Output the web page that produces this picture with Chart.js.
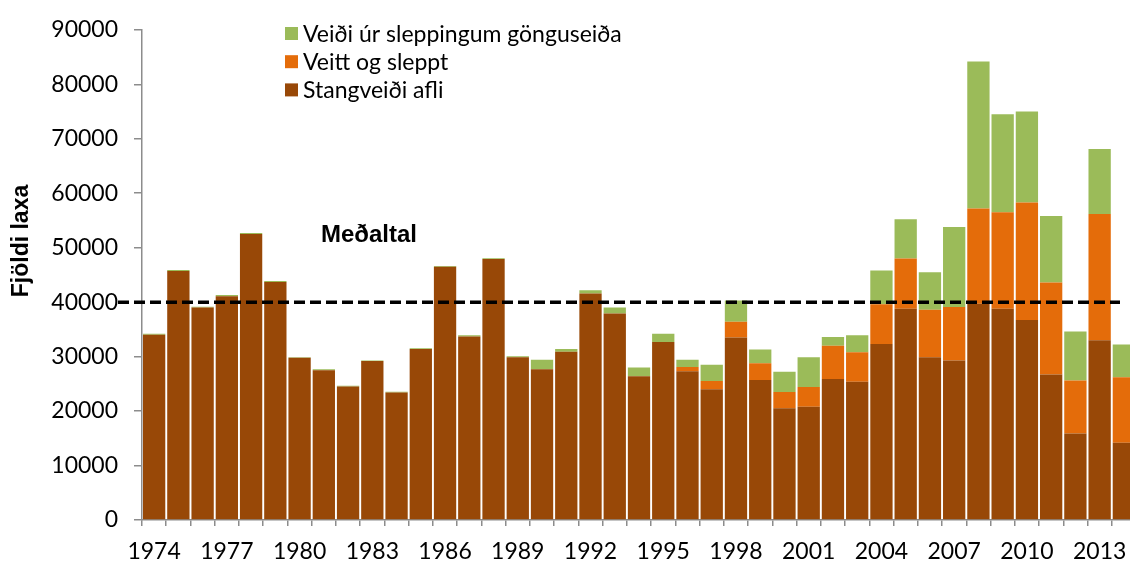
<!DOCTYPE html>
<html>
<head>
<meta charset="utf-8">
<script src="https://cdn.jsdelivr.net/npm/chart.js@4/dist/chart.umd.min.js"></script>
<style>
  html, body { margin: 0; padding: 0; background: #fff; overflow: hidden; }
  #wrap { width: 1136px; height: 561px; }
</style>
</head>
<body>
<div id="wrap"><canvas id="c" width="1136" height="561"></canvas></div>
<script>
const years = [1974,1975,1976,1977,1978,1979,1980,1981,1982,1983,1984,1985,1986,1987,1988,1989,1990,1991,1992,1993,1994,1995,1996,1997,1998,1999,2000,2001,2002,2003,2004,2005,2006,2007,2008,2009,2010,2011,2012,2013,2014];

const stangveidiAfli = [34000,45700,39000,41100,52500,43700,29800,27500,24500,29200,23400,31400,46500,33700,47900,29900,27700,30900,41600,37900,26400,32700,27300,24000,33500,25700,20500,20800,25900,25400,32300,38800,29900,29300,39700,38800,36700,26700,15900,33000,14200];

const veittOgSleppt = [0,0,0,0,0,0,0,0,0,0,0,0,0,0,0,0,0,0,0,0,0,0,800,1500,2900,3100,3000,3600,6100,5400,7300,9200,8700,9800,17500,17700,21600,16900,9700,23200,12000];

const veidiUrSleppingum = [200,200,150,200,200,200,100,200,150,100,150,150,150,200,150,150,1700,500,600,1100,1600,1500,1300,3000,3900,2500,3700,5500,1600,3100,6200,7200,6900,14700,27000,18000,16700,12200,9000,11900,6000];

const yTicks = [0,10000,20000,30000,40000,50000,60000,70000,80000,90000];
const average = 40000;
const averageLabel = 'Meðaltal';
const yTitle = 'Fjöldi laxa';
const seriesNames = ['Stangveiði afli', 'Veitt og sleppt', 'Veiði úr sleppingum gönguseiða'];
const seriesColors = ['#984807', '#E46C0A', '#9BBB59'];

const FONT = 'Lato, "Open Sans", sans-serif';
const BOLD = '"Liberation Sans", Arial, sans-serif';

const overlayPlugin = {
  id: 'overlay',
  afterDatasetsDraw(chart) {
    const ctx = chart.ctx;
    const y = chart.scales.y.getPixelForValue(average);
    ctx.save();
    ctx.strokeStyle = '#000';
    ctx.lineWidth = 3.5;
    ctx.setLineDash([11, 5]);
    ctx.beginPath();
    ctx.moveTo(118, y);
    ctx.lineTo(1120, y);
    ctx.stroke();
    ctx.setLineDash([]);
    ctx.fillStyle = '#000';
    ctx.font = 'bold 24px ' + BOLD;
    ctx.textBaseline = 'middle';
    ctx.textAlign = 'left';
    ctx.fillText(averageLabel, 321, y - 67);

    // y-axis title
    ctx.save();
    ctx.translate(22, 241);
    ctx.rotate(-Math.PI / 2);
    ctx.textAlign = 'center';
    ctx.font = 'bold 23px ' + BOLD;
    ctx.fillText(yTitle, 0, 0);
    ctx.restore();

    // legend (reverse order, as in reference)
    ctx.font = '23px ' + FONT;
    ctx.textAlign = 'left';
    const rows = [2, 1, 0];
    rows.forEach((di, r) => {
      const cy = 33.5 + r * 28.2;
      ctx.fillStyle = seriesColors[di];
      ctx.fillRect(285, cy - 6.5, 13, 13);
      ctx.fillStyle = '#000';
      ctx.fillText(seriesNames[di], 303, cy + 1);
    });
    ctx.restore();
  }
};

new Chart(document.getElementById('c'), {
  type: 'bar',
  data: {
    labels: years.map(String),
    datasets: [
      { label: seriesNames[0], data: stangveidiAfli, backgroundColor: seriesColors[0], borderWidth: 0 },
      { label: seriesNames[1], data: veittOgSleppt, backgroundColor: seriesColors[1], borderWidth: 0 },
      { label: seriesNames[2], data: veidiUrSleppingum, backgroundColor: seriesColors[2], borderWidth: 0 }
    ]
  },
  options: {
    responsive: false,
    animation: false,
    devicePixelRatio: 1,
    layout: { padding: { top: 22, right: 0, left: 0, bottom: 0 } },
    datasets: { bar: { categoryPercentage: 1.0, barPercentage: 0.92 } },
    plugins: {
      legend: { display: false },
      tooltip: { enabled: false },
      title: { display: false }
    },
    scales: {
      x: {
        stacked: true,
        border: { display: true, color: '#8c8c8c', width: 1.5 },
        grid: { display: true, offset: true, drawOnChartArea: false, drawTicks: true, tickLength: 6, color: '#8c8c8c', lineWidth: 1.5 },
        ticks: {
          autoSkip: false, maxRotation: 0, minRotation: 0,
          color: '#000', font: { family: FONT, size: 23 }, padding: 12,
          callback: function(v, i) { return i % 3 === 0 ? String(years[i]) : ''; }
        },
        afterFit: function(s) { s.height = 41; }
      },
      y: {
        stacked: true,
        min: 0, max: 90000,
        afterBuildTicks: function(s) { s.ticks = yTicks.map(v => ({ value: v })); },
        border: { display: true, color: '#8c8c8c', width: 1.5 },
        grid: { display: true, drawOnChartArea: false, drawTicks: true, tickLength: 8, color: '#8c8c8c', lineWidth: 1.5 },
        ticks: {
          color: '#000', font: { family: FONT, size: 23 }, padding: 16,
          callback: function(v) { return String(v); }
        },
        title: { display: false },
        afterFit: function(s) { s.width = 142; }
      }
    }
  },
  plugins: [overlayPlugin]
});
</script>
</body>
</html>
